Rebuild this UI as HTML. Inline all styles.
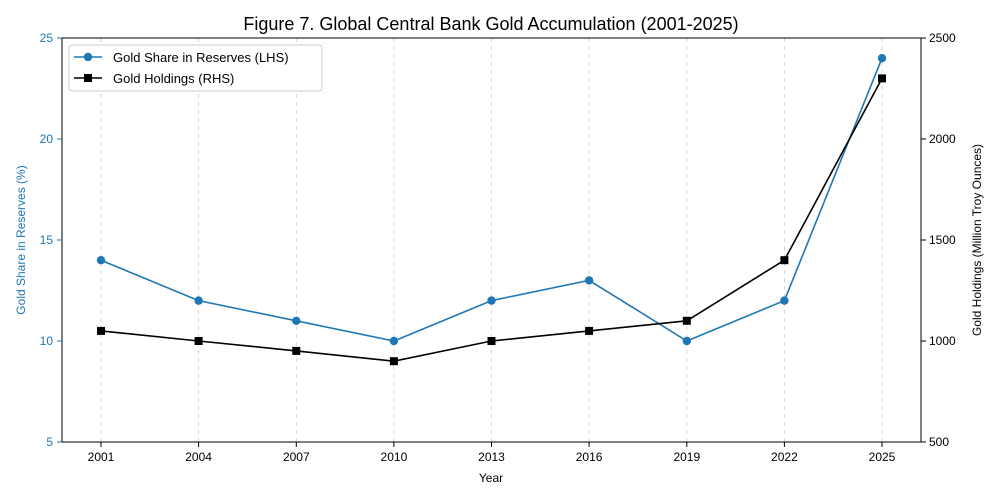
<!DOCTYPE html>
<html><head><style>body{margin:0;background:#fff}svg{display:block;font-family:"Liberation Sans","DejaVu Sans",sans-serif}</style></head>
<body>
<svg width="1000" height="500" xmlns="http://www.w3.org/2000/svg">
<rect width="1000" height="500" fill="#fff"/>
<text x="491" y="30" font-size="18" text-anchor="middle">Figure 7. Global Central Bank Gold Accumulation (2001-2025)</text>
<g stroke="#ccc" stroke-dasharray="4,4" stroke-width="0.8">
<line x1="101" y1="38" x2="101" y2="442"/><line x1="198.6" y1="38" x2="198.6" y2="442"/><line x1="296.3" y1="38" x2="296.3" y2="442"/><line x1="393.9" y1="38" x2="393.9" y2="442"/><line x1="491.5" y1="38" x2="491.5" y2="442"/><line x1="589.1" y1="38" x2="589.1" y2="442"/><line x1="686.8" y1="38" x2="686.8" y2="442"/><line x1="784.4" y1="38" x2="784.4" y2="442"/><line x1="882" y1="38" x2="882" y2="442"/>
</g>
<rect x="62" y="38" width="859" height="404" fill="none" stroke="#000" stroke-width="1"/>
<g stroke="#000"><line x1="101" y1="442" x2="101" y2="447"/><line x1="198.6" y1="442" x2="198.6" y2="447"/><line x1="296.3" y1="442" x2="296.3" y2="447"/><line x1="393.9" y1="442" x2="393.9" y2="447"/><line x1="491.5" y1="442" x2="491.5" y2="447"/><line x1="589.1" y1="442" x2="589.1" y2="447"/><line x1="686.8" y1="442" x2="686.8" y2="447"/><line x1="784.4" y1="442" x2="784.4" y2="447"/><line x1="882" y1="442" x2="882" y2="447"/>
<line x1="921" y1="38" x2="926" y2="38"/><line x1="921" y1="139" x2="926" y2="139"/><line x1="921" y1="240" x2="926" y2="240"/><line x1="921" y1="341" x2="926" y2="341"/><line x1="921" y1="442" x2="926" y2="442"/></g>
<g stroke="#1f77b4"><line x1="57" y1="38" x2="62" y2="38"/><line x1="57" y1="139" x2="62" y2="139"/><line x1="57" y1="240" x2="62" y2="240"/><line x1="57" y1="341" x2="62" y2="341"/><line x1="57" y1="442" x2="62" y2="442"/></g>
<g font-size="12" text-anchor="middle"><text x="101" y="461">2001</text><text x="198.6" y="461">2004</text><text x="296.3" y="461">2007</text><text x="393.9" y="461">2010</text><text x="491.5" y="461">2013</text><text x="589.1" y="461">2016</text><text x="686.8" y="461">2019</text><text x="784.4" y="461">2022</text><text x="882" y="461">2025</text>
<text x="491" y="482" font-size="12">Year</text></g>
<g font-size="12" fill="#1f77b4" text-anchor="end"><text x="53" y="42">25</text><text x="53" y="143">20</text><text x="53" y="244">15</text><text x="53" y="345">10</text><text x="53" y="446">5</text></g>
<g font-size="12"><text x="929" y="42">2500</text><text x="929" y="143">2000</text><text x="929" y="244">1500</text><text x="929" y="345">1000</text><text x="929" y="446">500</text></g>
<text transform="translate(25,240) rotate(-90)" font-size="12" fill="#1f77b4" text-anchor="middle">Gold Share in Reserves (%)</text>
<text transform="translate(981,240) rotate(-90)" font-size="12" text-anchor="middle">Gold Holdings (Million Troy Ounces)</text>
<polyline fill="none" stroke="#1f77b4" stroke-width="1.6" points="101,260.2 198.6,300.6 296.3,320.8 393.9,341 491.5,300.6 589.1,280.4 686.8,341 784.4,300.6 882,58.2"/>
<g fill="#1f77b4"><circle cx="101" cy="260.2" r="4.2"/><circle cx="198.6" cy="300.6" r="4.2"/><circle cx="296.3" cy="320.8" r="4.2"/><circle cx="393.9" cy="341" r="4.2"/><circle cx="491.5" cy="300.6" r="4.2"/><circle cx="589.1" cy="280.4" r="4.2"/><circle cx="686.8" cy="341" r="4.2"/><circle cx="784.4" cy="300.6" r="4.2"/><circle cx="882" cy="58.2" r="4.2"/></g>
<polyline fill="none" stroke="#000" stroke-width="1.6" points="101,330.9 198.6,341 296.3,350.9 393.9,361.2 491.5,341 589.1,330.9 686.8,320.8 784.4,260.2 882,78.4"/>
<g fill="#000"><rect x="97" y="326.9" width="8" height="8"/><rect x="194.6" y="337" width="8" height="8"/><rect x="292.3" y="346.9" width="8" height="8"/><rect x="389.9" y="357.2" width="8" height="8"/><rect x="487.5" y="337" width="8" height="8"/><rect x="585.1" y="326.9" width="8" height="8"/><rect x="682.8" y="316.8" width="8" height="8"/><rect x="780.4" y="256.2" width="8" height="8"/><rect x="878" y="74.4" width="8" height="8"/></g>
<rect x="69" y="45" width="253" height="46" rx="3" fill="#fff" stroke="#ccc"/>
<line x1="74" y1="57" x2="102" y2="57" stroke="#1f77b4" stroke-width="1.6"/><circle cx="88" cy="57" r="4.2" fill="#1f77b4"/>
<text x="113" y="62" font-size="13">Gold Share in Reserves (LHS)</text>
<line x1="74" y1="78" x2="102" y2="78" stroke="#000" stroke-width="1.6"/><rect x="84" y="74" width="8" height="8"/>
<text x="113" y="83" font-size="13">Gold Holdings (RHS)</text>
</svg>
</body></html>
